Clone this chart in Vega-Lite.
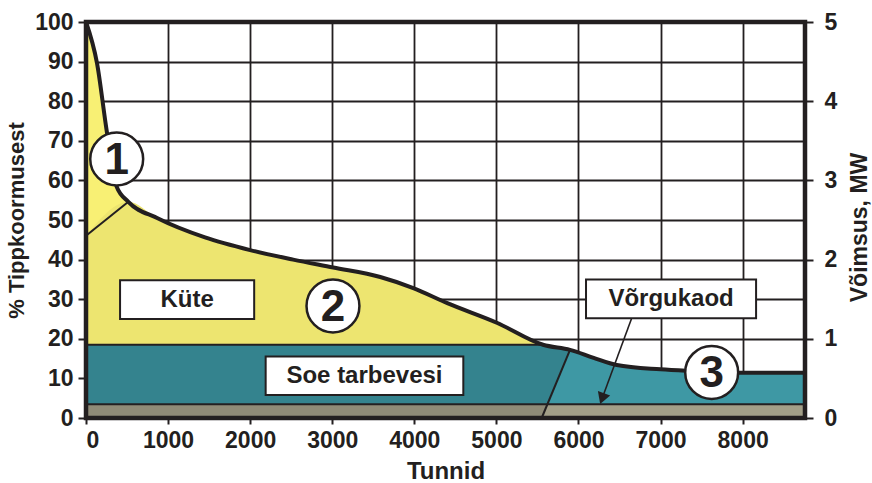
{
  "$schema": "https://vega.github.io/schema/vega-lite/v6.json",
  "width": 719,
  "height": 396,
  "autosize": {"type": "none"},
  "padding": {"left": 86, "top": 22, "right": 67, "bottom": 65},
  "background": "white",
  "datasets": {
    "curve": [
      {"x": 0, "y": 100}, {"x": 134, "y": 89.6}, {"x": 256, "y": 72}, {"x": 374, "y": 58.4},
      {"x": 516, "y": 54.6}, {"x": 866, "y": 50.5}, {"x": 1450, "y": 45.6}, {"x": 2000, "y": 42.4},
      {"x": 2524, "y": 40}, {"x": 3012, "y": 38}, {"x": 3585, "y": 35.6}, {"x": 3988, "y": 32.8},
      {"x": 4402, "y": 29}, {"x": 5012, "y": 24}, {"x": 5568, "y": 18.5}, {"x": 5897, "y": 17.2},
      {"x": 6185, "y": 15.2}, {"x": 6467, "y": 13.4}, {"x": 7000, "y": 12.3}, {"x": 7329, "y": 11.9},
      {"x": 7976, "y": 11.4}, {"x": 8760, "y": 11.4}
    ],
    "yel": [
      {"x": 0, "y": 100, "y2": 18.5}, {"x": 134, "y": 89.6, "y2": 18.5}, {"x": 256, "y": 72, "y2": 18.5},
      {"x": 374, "y": 58.4, "y2": 18.5}, {"x": 516, "y": 54.6, "y2": 18.5}, {"x": 866, "y": 50.5, "y2": 18.5},
      {"x": 1450, "y": 45.6, "y2": 18.5}, {"x": 2000, "y": 42.4, "y2": 18.5}, {"x": 2524, "y": 40, "y2": 18.5},
      {"x": 3012, "y": 38, "y2": 18.5}, {"x": 3585, "y": 35.6, "y2": 18.5}, {"x": 3988, "y": 32.8, "y2": 18.5},
      {"x": 4402, "y": 29, "y2": 18.5}, {"x": 5012, "y": 24, "y2": 18.5}, {"x": 5568, "y": 18.5, "y2": 18.5}
    ],
    "kute": [
      {"x": 0, "y": 46, "y2": 18.5}, {"x": 516, "y": 54.6, "y2": 18.5}, {"x": 866, "y": 50.5, "y2": 18.5},
      {"x": 1450, "y": 45.6, "y2": 18.5}, {"x": 2000, "y": 42.4, "y2": 18.5}, {"x": 2524, "y": 40, "y2": 18.5},
      {"x": 3012, "y": 38, "y2": 18.5}, {"x": 3585, "y": 35.6, "y2": 18.5}, {"x": 3988, "y": 32.8, "y2": 18.5},
      {"x": 4402, "y": 29, "y2": 18.5}, {"x": 5012, "y": 24, "y2": 18.5}, {"x": 5568, "y": 18.5, "y2": 18.5}
    ],
    "teal": [
      {"x": 0, "y": 18.5, "y2": 3.5}, {"x": 5568, "y": 18.5, "y2": 3.5}, {"x": 5897, "y": 17.2, "y2": 3.5},
      {"x": 6185, "y": 15.2, "y2": 3.5}, {"x": 6467, "y": 13.4, "y2": 3.5}, {"x": 7000, "y": 12.3, "y2": 3.5},
      {"x": 7329, "y": 11.9, "y2": 3.5}, {"x": 7976, "y": 11.4, "y2": 3.5}, {"x": 8760, "y": 11.4, "y2": 3.5}
    ],
    "tealH": [
      {"x": 0, "y": 18.5, "y2": 3.5}, {"x": 5568, "y": 18.5, "y2": 3.5}, {"x": 5622, "y": 18.3, "y2": 3.5},
      {"x": 5897, "y": 17.2, "y2": 17.2}
    ],
    "gray": [
      {"x": 0, "y": 3.5, "y2": 0}, {"x": 8760, "y": 3.5, "y2": 0}
    ],
    "grayH": [
      {"x": 0, "y": 3.5, "y2": 0}, {"x": 5552, "y": 3.5, "y2": 0}, {"x": 5622, "y": 3.5, "y2": 3.5}
    ],
    "lines": [
      {"seg": "divider", "x": 0, "y": 46}, {"seg": "divider", "x": 516, "y": 54.6},
      {"seg": "band", "x": 0, "y": 18.5}, {"seg": "band", "x": 5568, "y": 18.5},
      {"seg": "loss", "x": 0, "y": 3.5}, {"seg": "loss", "x": 8760, "y": 3.5},
      {"seg": "slant", "x": 5552, "y": 0}, {"seg": "slant", "x": 5897, "y": 17.2}
    ],
    "arrow": [
      {"seg": "arrow", "x": 6648, "y": 25.2}, {"seg": "arrow", "x": 6288, "y": 4.9}
    ],
    "arrowhead": [{"x": 6288, "y": 4.9}],
    "boxes": [
      {"label": "Küte", "x": 415, "x2": 2049, "y": 25, "y2": 34.8},
      {"label": "Soe tarbevesi", "x": 2189, "x2": 4597, "y": 5.8, "y2": 15.5},
      {"label": "Võrgukaod", "x": 6092, "x2": 8164, "y": 25.2, "y2": 35}
    ],
    "boxlabels": [
      {"label": "Küte", "x": 1232, "y": 29.9},
      {"label": "Soe tarbevesi", "x": 3393, "y": 10.65},
      {"label": "Võrgukaod", "x": 7128, "y": 30.1}
    ],
    "circles": [
      {"label": "1", "x": 374, "y": 65.4},
      {"label": "2", "x": 3009, "y": 28.3},
      {"label": "3", "x": 7623, "y": 11.5}
    ],
    "frame": [{"x": 0, "x2": 8760, "y": 0, "y2": 100}],
    "mw": [{"MW": 0}, {"MW": 5}]
  },
  "layer": [
    {
      "encoding": {
        "x": {
          "field": "x", "type": "quantitative",
          "scale": {"domain": [0, 8760], "nice": false},
          "axis": {"values": [0, 1000, 2000, 3000, 4000, 5000, 6000, 7000, 8000], "format": "d", "title": "Tunnid", "grid": true, "tickSize": 6, "labelPadding": 5, "titlePadding": 7, "labelOverlap": false, "labelBound": false, "titleFontSize": 24}
        },
        "y": {
          "field": "y", "type": "quantitative",
          "scale": {"domain": [0, 100], "nice": false},
          "axis": {"values": [0, 10, 20, 30, 40, 50, 60, 70, 80, 90, 100], "title": "% Tippkoormusest", "grid": true, "tickSize": 8, "labelPadding": 5, "titlePadding": 6, "labelOverlap": false, "labelBound": false, "titleFontSize": 22}
        }
      },
      "layer": [
        {"data": {"name": "gray"}, "mark": {"type": "area", "color": "#A39F88", "opacity": 1}, "encoding": {"y2": {"field": "y2"}}},
        {"data": {"name": "grayH"}, "mark": {"type": "area", "color": "#8F8B77", "opacity": 1}, "encoding": {"y2": {"field": "y2"}}},
        {"data": {"name": "teal"}, "mark": {"type": "area", "color": "#3E98A4", "opacity": 1, "interpolate": "monotone"}, "encoding": {"y2": {"field": "y2"}}},
        {"data": {"name": "tealH"}, "mark": {"type": "area", "color": "#34838E", "opacity": 1}, "encoding": {"y2": {"field": "y2"}}},
        {"data": {"name": "yel"}, "mark": {"type": "area", "color": "#F8F074", "opacity": 1, "interpolate": "monotone"}, "encoding": {"y2": {"field": "y2"}}},
        {"data": {"name": "kute"}, "mark": {"type": "area", "color": "#EDE570", "opacity": 1, "interpolate": "monotone"}, "encoding": {"y2": {"field": "y2"}}},
        {"data": {"name": "lines"}, "mark": {"type": "line", "color": "#231F20", "strokeWidth": 2}, "encoding": {"detail": {"field": "seg"}}},
        {"data": {"name": "curve"}, "mark": {"type": "line", "color": "#231F20", "strokeWidth": 4, "strokeJoin": "round", "interpolate": "monotone"}, "encoding": {}},
        {"data": {"name": "arrow"}, "mark": {"type": "line", "color": "#231F20", "strokeWidth": 1.6}, "encoding": {"detail": {"field": "seg"}}},
        {"data": {"name": "arrowhead"}, "mark": {"type": "point", "shape": "triangle-down", "size": 170, "angle": 20, "filled": true, "color": "#231F20", "opacity": 1}},
        {"data": {"name": "boxes"}, "mark": {"type": "rect", "fill": "white", "stroke": "#231F20", "strokeWidth": 2}, "encoding": {"x2": {"field": "x2"}, "y2": {"field": "y2"}}},
        {"data": {"name": "boxlabels"}, "mark": {"type": "text", "font": "Liberation Sans", "fontWeight": "bold", "fontSize": 24, "color": "#231F20", "baseline": "middle", "align": "center"}, "encoding": {"text": {"field": "label"}}},
        {"data": {"name": "circles"}, "mark": {"type": "point", "shape": "circle", "size": 2800, "filled": true, "fill": "white", "stroke": "#231F20", "strokeWidth": 2.5, "opacity": 1}},
        {"data": {"name": "circles"}, "mark": {"type": "text", "font": "Liberation Sans", "fontWeight": "bold", "fontSize": 44, "color": "#231F20", "baseline": "middle", "align": "center", "dy": 2}, "encoding": {"text": {"field": "label"}}},
        {"data": {"name": "frame"}, "mark": {"type": "rect", "fill": null, "fillOpacity": 0, "stroke": "#231F20", "strokeWidth": 4.5}, "encoding": {"x2": {"field": "x2"}, "y2": {"field": "y2"}}}
      ]
    },
    {
      "data": {"name": "mw"},
      "mark": {"type": "tick", "opacity": 0},
      "encoding": {
        "x": {"value": 0},
        "y": {"field": "MW", "type": "quantitative", "scale": {"domain": [0, 5], "nice": false},
          "axis": {"orient": "right", "values": [0, 1, 2, 3, 4, 5], "title": "Võimsus, MW", "titleAngle": 270, "titleBaseline": "top", "titleY": 205, "grid": false, "tickSize": 8, "labelPadding": 11, "titlePadding": 12, "labelOverlap": false, "labelBound": false, "titleFontSize": 23}}
      }
    }
  ],
  "resolve": {"scale": {"y": "independent"}, "axis": {"y": "independent"}},
  "config": {
    "view": {"stroke": null},
    "axis": {
      "domain": false,
      "labelFont": "Liberation Sans", "labelFontWeight": "bold", "labelFontSize": 23, "labelColor": "#231F20",
      "titleFont": "Liberation Sans", "titleFontWeight": "bold", "titleColor": "#231F20",
      "tickColor": "#231F20", "tickWidth": 2,
      "gridColor": "#231F20", "gridWidth": 1.8, "gridOpacity": 1
    }
  }
}
